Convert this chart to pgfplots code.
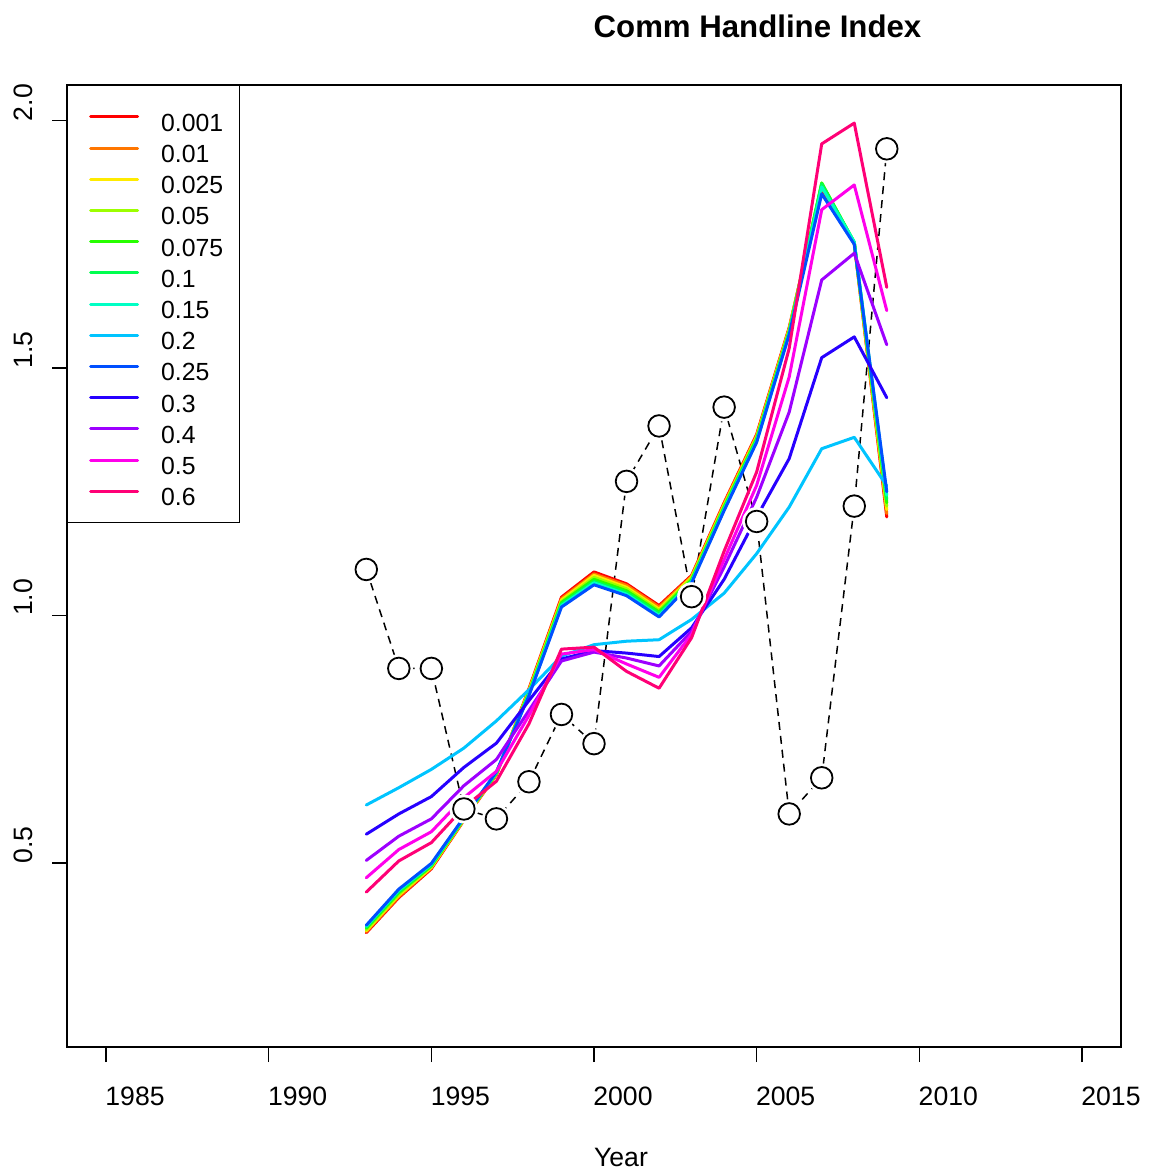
\documentclass[border=0pt]{standalone}
\usepackage{pgfplots}
\pgfplotsset{compat=1.18}
\usepackage{pgfplotstable}
\usepackage{fontspec}
\setmainfont{Liberation Sans}

% rainbow palette, one hue per sigma value
\definecolor{c001}{rgb}{1,0,0}
\definecolor{c01}{rgb}{1,0.4615,0}
\definecolor{c025}{rgb}{1,0.923,0}
\definecolor{c05}{rgb}{0.615,1,0}
\definecolor{c075}{rgb}{0.154,1,0}
\definecolor{c1}{rgb}{0,1,0.308}
\definecolor{c15}{rgb}{0,1,0.769}
\definecolor{c2}{rgb}{0,0.769,1}
\definecolor{c25}{rgb}{0,0.308,1}
\definecolor{c3}{rgb}{0.154,0,1}
\definecolor{c4}{rgb}{0.615,0,1}
\definecolor{c5}{rgb}{1,0,0.923}
\definecolor{c6}{rgb}{1,0,0.4615}

% observed index and fitted indices for each sigma
\pgfplotstableread{
year obs   s001  s01   s025  s05   s075  s1    s15   s2    s25   s3    s4    s5    s6
1993 1.093 0.359 0.361 0.363 0.365 0.368 0.370 0.372 0.617 0.374 0.558 0.505 0.470 0.441
1994 0.893 0.430 0.432 0.435 0.437 0.440 0.442 0.445 0.652 0.447 0.599 0.554 0.527 0.504
1995 0.893 0.488 0.490 0.491 0.493 0.494 0.496 0.497 0.689 0.499 0.634 0.589 0.563 0.541
1996 0.609 0.586 0.587 0.588 0.589 0.589 0.590 0.591 0.732 0.592 0.693 0.656 0.632 0.612
1997 0.589 0.678 0.679 0.680 0.681 0.681 0.682 0.683 0.787 0.684 0.742 0.709 0.685 0.665
1998 0.664 0.852 0.850 0.848 0.846 0.844 0.842 0.840 0.850 0.838 0.828 0.808 0.798 0.781
1999 0.800 1.037 1.034 1.031 1.028 1.026 1.023 1.020 0.918 1.017 0.912 0.908 0.922 0.932
2000 0.741 1.088 1.084 1.081 1.077 1.073 1.069 1.066 0.941 1.062 0.929 0.926 0.931 0.936
2001 1.271 1.064 1.061 1.057 1.054 1.050 1.047 1.043 0.948 1.040 0.924 0.914 0.902 0.887
2002 1.383 1.020 1.017 1.013 1.010 1.007 1.004 1.000 0.951 0.997 0.917 0.898 0.875 0.853
2003 1.038 1.081 1.079 1.077 1.075 1.072 1.070 1.068 0.992 1.066 0.975 0.968 0.962 0.955
2004 1.421 1.228 1.226 1.223 1.221 1.219 1.217 1.214 1.045 1.212 1.073 1.098 1.113 1.130
2005 1.190 1.366 1.364 1.361 1.359 1.357 1.355 1.352 1.125 1.350 1.199 1.239 1.263 1.290
2006 0.599 1.582 1.580 1.578 1.576 1.574 1.572 1.570 1.219 1.568 1.317 1.411 1.482 1.540
2007 0.672 1.862 1.866 1.870 1.873 1.874 1.872 1.866 1.337 1.852 1.521 1.678 1.820 1.953
2008 1.221 1.752 1.752 1.753 1.753 1.754 1.754 1.755 1.360 1.750 1.563 1.732 1.870 1.995
2009 1.943 1.199 1.206 1.214 1.221 1.228 1.235 1.243 1.262 1.250 1.440 1.547 1.616 1.663
}\idx

\newcommand{\legtxt}[1]{\makebox[39pt][l]{#1}}

\begin{document}
\begin{tikzpicture}
\path[use as bounding box] (0,0) rectangle (574pt,588pt);
\begin{axis}[
  at={(33.5pt,64.5pt)}, anchor=south west,
  scale only axis, width=527pt, height=481pt,
  xmin=1983.8, xmax=2016.2, ymin=0.128, ymax=2.072,
  axis line style={line width=0.7pt},
  xtick={1985,1990,...,2015}, ytick={0.5,1.0,1.5,2.0},
  tick pos=left, tick align=outside, major tick length=7.5pt,
  tick style={black, line width=0.7pt},
  ticklabel style={font=\fontsize{13.3}{16}\selectfont},
  /pgf/number format/assume math mode=true,
  xticklabel style={/pgf/number format/1000 sep={}, anchor=center, xshift=14.5pt, yshift=-17.35pt},
  yticklabel style={/pgf/number format/fixed, /pgf/number format/fixed zerofill,
    /pgf/number format/precision=1, anchor=center, xshift=-14.5pt, yshift=9pt, rotate=90},
  title={Comm Handline Index},
  title style={at={(axis description cs:0.6551,1.0374)}, anchor=base,
    font=\bfseries\fontsize{15.6}{19}\selectfont},
  xlabel={Year},
  xlabel style={at={(axis description cs:0.5256,-0.1247)}, anchor=base,
    font=\fontsize{13.3}{16}\selectfont},
  legend cell align=left,
  legend style={at={(0,1)}, anchor=north west, draw=black, line width=0.7pt, fill=white,
    inner xsep=0pt, inner ysep=8.4pt, row sep=1.2pt, column sep=11pt,
    font=\fontsize{12.4}{15}\selectfont,
    nodes={inner sep=0pt, text height=14.4pt, text depth=0pt}},
  legend image code/.code={\path[draw=none, fill=none] (0pt,-3pt) rectangle (35pt,3pt);
    \draw[#1] (11.5pt,0pt) -- (35pt,0pt);},
  fit/.style={mark=none, line width=1.5pt, line join=round, line cap=round},
]
% observed index: dashed line broken around each open circle
\addplot[black, line width=0.75pt, dash pattern=on 4pt off 3pt, forget plot]
  table[x=year, y=obs]{\idx};
\addplot[only marks, white, mark=*, mark size=7pt, mark options={white, solid}, forget plot]
  table[x=year, y=obs]{\idx};
\addplot[only marks, black, mark=o, mark size=5.4pt, mark options={black, solid, line width=0.9pt}, forget plot]
  table[x=year, y=obs]{\idx};

\addplot[fit, c001] table[x=year, y=s001]{\idx};
\addplot[fit, c01]  table[x=year, y=s01]{\idx};
\addplot[fit, c025] table[x=year, y=s025]{\idx};
\addplot[fit, c05]  table[x=year, y=s05]{\idx};
\addplot[fit, c075] table[x=year, y=s075]{\idx};
\addplot[fit, c1]   table[x=year, y=s1]{\idx};
\addplot[fit, c15]  table[x=year, y=s15]{\idx};
\addplot[fit, c2]   table[x=year, y=s2]{\idx};
\addplot[fit, c25]  table[x=year, y=s25]{\idx};
\addplot[fit, c3]   table[x=year, y=s3]{\idx};
\addplot[fit, c4]   table[x=year, y=s4]{\idx};
\addplot[fit, c5]   table[x=year, y=s5]{\idx};
\addplot[fit, c6]   table[x=year, y=s6]{\idx};
\legend{\legtxt{0.001},\legtxt{0.01},\legtxt{0.025},\legtxt{0.05},\legtxt{0.075},
  \legtxt{0.1},\legtxt{0.15},\legtxt{0.2},\legtxt{0.25},\legtxt{0.3},
  \legtxt{0.4},\legtxt{0.5},\legtxt{0.6}}
\end{axis}
\end{tikzpicture}
\end{document}
